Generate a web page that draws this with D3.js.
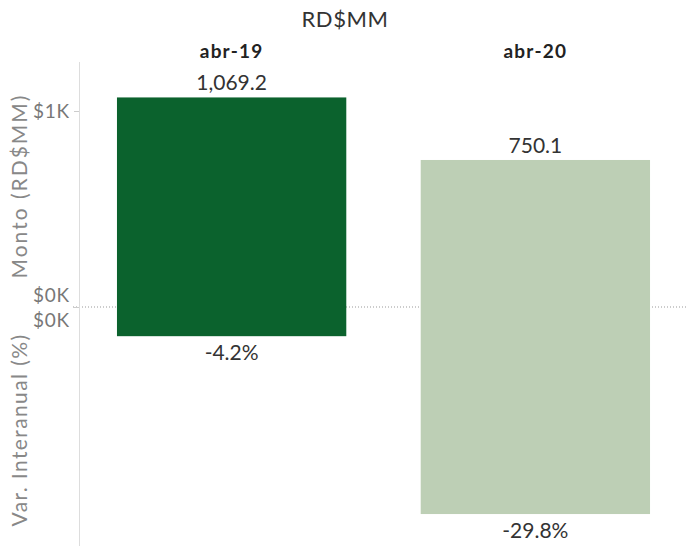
<!DOCTYPE html>
<html>
<head>
<meta charset="utf-8">
<script src="https://cdn.jsdelivr.net/npm/d3@7"></script>
<style>
  body { margin: 0; background: #fff; }
  svg { display: block; font-family: Lato, "Open Sans", sans-serif; }
</style>
</head>
<body>
<svg id="chart" width="688" height="546"></svg>
<script>
// data
const periods = ["abr-19", "abr-20"];
const monto = [1069.2, 750.1];          // RD$MM
const varInteranual = [-4.2, -29.8];    // %
const montoTicks = [0, 1000];
const varTicks = [0];

const svg = d3.select("#chart"),
  width = +svg.attr("width"),
  height = +svg.attr("height"),
  left = 79,
  zeroY = 307,
  colors = ["#0b622d", "#bdcfb5"];

const x = d3.scaleBand()
  .domain(periods)
  .range([left, width])
  .paddingInner(0.245)
  .paddingOuter(0.125);

// upper pane (monto) and lower pane (var. interanual)
const yTop = d3.scaleLinear().domain([0, 1250]).range([zeroY, 62]);
const yBot = d3.scaleLinear().domain([-34.4, 0]).range([height, zeroY]);

const fmtVal = d3.format(",.1f");
const fmtK = d => "$" + d3.format(".0f")(d / 1000) + "K";

// title
svg.append("text")
  .attr("x", 345).attr("y", 27)
  .attr("text-anchor", "middle")
  .attr("font-size", 22)
  .attr("letter-spacing", 0.6)
  .attr("fill", "#333")
  .text("RD$MM");

// column headers
svg.selectAll(".hdr")
  .data(periods)
  .join("text")
  .attr("class", "hdr")
  .attr("x", d => x(d) + x.bandwidth() / 2)
  .attr("y", 58)
  .attr("text-anchor", "middle")
  .attr("font-size", 19)
  .attr("letter-spacing", 1.2)
  .attr("font-weight", "bold")
  .attr("fill", "#222")
  .text(d => d);

// zero line (dotted)
svg.append("line")
  .attr("x1", 73).attr("x2", width)
  .attr("y1", zeroY).attr("y2", zeroY)
  .attr("stroke", "#999")
  .attr("stroke-width", 1)
  .attr("stroke-dasharray", "1,2");

// axis line
svg.append("line")
  .attr("x1", left + 0.5).attr("x2", left + 0.5)
  .attr("y1", 62).attr("y2", height)
  .attr("stroke", "#ddd");

// upper bars
svg.selectAll(".barTop")
  .data(periods)
  .join("rect")
  .attr("class", "barTop")
  .attr("x", d => x(d))
  .attr("width", x.bandwidth())
  .attr("y", (d, i) => yTop(monto[i]))
  .attr("height", (d, i) => zeroY - yTop(monto[i]))
  .attr("fill", (d, i) => colors[i]);

// lower bars
svg.selectAll(".barBot")
  .data(periods)
  .join("rect")
  .attr("class", "barBot")
  .attr("x", d => x(d))
  .attr("width", x.bandwidth())
  .attr("y", zeroY)
  .attr("height", (d, i) => yBot(varInteranual[i]) - zeroY)
  .attr("fill", (d, i) => colors[i]);

// value labels
svg.selectAll(".lblTop")
  .data(periods)
  .join("text")
  .attr("class", "lblTop")
  .attr("x", d => x(d) + x.bandwidth() / 2)
  .attr("y", (d, i) => yTop(monto[i]) - 7)
  .attr("text-anchor", "middle")
  .attr("font-size", 21)
  .attr("fill", "#333")
  .text((d, i) => fmtVal(monto[i]));

svg.selectAll(".lblBot")
  .data(periods)
  .join("text")
  .attr("class", "lblBot")
  .attr("x", d => x(d) + x.bandwidth() / 2)
  .attr("y", (d, i) => yBot(varInteranual[i]) + 24)
  .attr("text-anchor", "middle")
  .attr("font-size", 21)
  .attr("fill", "#333")
  .text((d, i) => varInteranual[i].toFixed(1) + "%");

// y axes
const axTop = svg.append("g")
  .attr("transform", `translate(${left},0)`)
  .call(d3.axisLeft(yTop).tickValues(montoTicks).tickFormat(fmtK).tickSize(5).tickPadding(4));
axTop.selectAll("text").filter(d => d === 0).attr("dy", "-0.3em");

const axBot = svg.append("g")
  .attr("transform", `translate(${left},0)`)
  .call(d3.axisLeft(yBot).tickValues(varTicks).tickFormat(fmtK).tickSize(5).tickPadding(4));
axBot.selectAll("text").attr("dy", "1.0em");

svg.selectAll(".domain").remove();
svg.selectAll(".tick line").attr("stroke", "#ccc");
svg.selectAll(".tick text")
  .attr("font-size", 19)
  .attr("letter-spacing", 0.8)
  .attr("font-family", "Lato, sans-serif")
  .attr("fill", "#777");

// axis titles
svg.append("text")
  .attr("transform", "translate(27,186) rotate(-90)")
  .attr("text-anchor", "middle")
  .attr("font-size", 21)
  .attr("letter-spacing", 2)
  .attr("fill", "#888")
  .text("Monto (RD$MM)");

svg.append("text")
  .attr("transform", "translate(27,430) rotate(-90)")
  .attr("text-anchor", "middle")
  .attr("font-size", 21)
  .attr("letter-spacing", 1.4)
  .attr("fill", "#888")
  .text("Var. Interanual (%)");
</script>
</body>
</html>
